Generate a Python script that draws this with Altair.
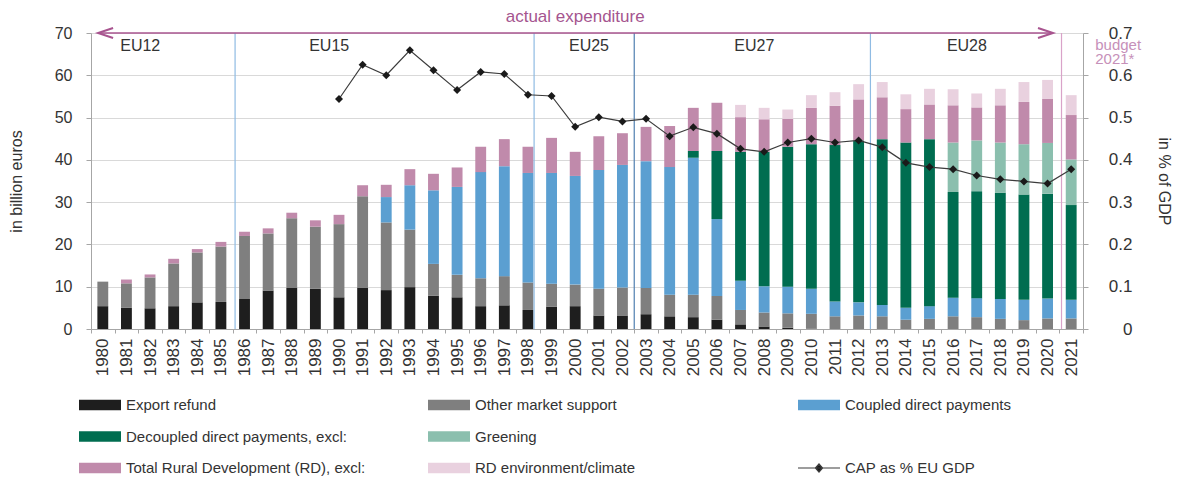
import altair as alt
import pandas as pd

FONT = "Liberation Sans"
TXT = "#333333"

years = ["1980", "1981", "1982", "1983", "1984", "1985", "1986", "1987", "1988", "1989",
         "1990", "1991", "1992", "1993", "1994", "1995", "1996", "1997", "1998", "1999",
         "2000", "2001", "2002", "2003", "2004", "2005", "2006", "2007", "2008", "2009",
         "2010", "2011", "2012", "2013", "2014", "2015", "2016", "2017", "2018", "2019",
         "2020", "2021"]

# billion euros, per segment
export_refund = [5.4, 5.0, 4.9, 5.4, 6.3, 6.4, 7.1, 9.1, 9.7, 9.5,
                 7.5, 9.8, 9.2, 9.9, 7.9, 7.5, 5.4, 5.6, 4.5, 5.3,
                 5.4, 3.2, 3.2, 3.5, 3.0, 2.8, 2.2, 1.1, 0.6, 0.3,
                 0.1, 0.0, 0.0, 0.0, 0.0, 0.0, 0.0, 0.0, 0.0, 0.0,
                 0.0, 0.0]
other_market = [5.8, 5.8, 7.3, 10.1, 11.8, 13.1, 14.9, 13.5, 16.5, 14.7,
                17.3, 21.6, 16.0, 13.6, 7.5, 5.3, 6.6, 6.9, 6.5, 5.4,
                5.1, 6.3, 6.6, 6.2, 5.1, 5.3, 5.6, 3.4, 3.3, 3.4,
                3.5, 3.0, 3.2, 3.0, 2.2, 2.4, 3.0, 2.8, 2.4, 2.1,
                2.5, 2.5]
coupled = [0.0, 0.0, 0.0, 0.0, 0.0, 0.0, 0.0, 0.0, 0.0, 0.0,
           0.0, 0.0, 6.0, 10.5, 17.4, 20.8, 25.1, 26.0, 25.9, 26.2,
           25.7, 28.1, 29.0, 30.0, 30.2, 32.4, 18.2, 6.9, 6.2, 6.3,
           5.9, 3.5, 3.1, 2.7, 2.8, 3.0, 4.4, 4.5, 4.7, 4.8,
           4.7, 4.4]
decoupled = [0.0, 0.0, 0.0, 0.0, 0.0, 0.0, 0.0, 0.0, 0.0, 0.0,
             0.0, 0.0, 0.0, 0.0, 0.0, 0.0, 0.0, 0.0, 0.0, 0.0,
             0.0, 0.0, 0.0, 0.0, 0.0, 1.6, 16.1, 30.5, 31.8, 33.1,
             34.2, 37.0, 38.3, 39.2, 39.1, 39.5, 25.0, 25.3, 25.1, 24.9,
             24.8, 22.4]
greening = [0.0, 0.0, 0.0, 0.0, 0.0, 0.0, 0.0, 0.0, 0.0, 0.0,
            0.0, 0.0, 0.0, 0.0, 0.0, 0.0, 0.0, 0.0, 0.0, 0.0,
            0.0, 0.0, 0.0, 0.0, 0.0, 0.0, 0.0, 0.0, 0.0, 0.0,
            0.0, 0.0, 0.0, 0.0, 0.0, 0.0, 11.7, 12.0, 11.9, 11.9,
            12.0, 10.8]
rural_dev = [0.0, 0.9, 0.7, 1.1, 0.8, 1.1, 1.0, 1.2, 1.3, 1.5,
             2.2, 2.6, 2.9, 3.8, 3.9, 4.6, 6.0, 6.4, 6.2, 8.3,
             5.7, 8.0, 7.5, 8.1, 9.7, 10.2, 11.4, 8.2, 7.7, 6.6,
             8.6, 9.3, 9.7, 9.9, 7.9, 8.2, 8.8, 7.8, 8.8, 10.0,
             10.4, 10.5]
rd_env = [0.0, 0.0, 0.0, 0.0, 0.0, 0.0, 0.0, 0.0, 0.0, 0.0,
          0.0, 0.0, 0.0, 0.0, 0.0, 0.0, 0.0, 0.0, 0.0, 0.0,
          0.0, 0.0, 0.0, 0.0, 0.0, 0.0, 0.0, 2.9, 2.7, 2.2,
          3.0, 3.2, 3.6, 3.6, 3.5, 3.7, 3.8, 3.3, 3.9, 4.7,
          4.5, 4.7]

# CAP as % of EU GDP
cap_years = ["1990", "1991", "1992", "1993", "1994", "1995", "1996", "1997", "1998", "1999",
             "2000", "2001", "2002", "2003", "2004", "2005", "2006", "2007", "2008", "2009",
             "2010", "2011", "2012", "2013", "2014", "2015", "2016", "2017", "2018", "2019",
             "2020", "2021"]
cap_pct = [0.544, 0.625, 0.600, 0.659, 0.612, 0.565, 0.608, 0.603, 0.554, 0.551,
           0.478, 0.501, 0.491, 0.497, 0.456, 0.477, 0.462, 0.426, 0.419, 0.441,
           0.450, 0.441, 0.446, 0.430, 0.393, 0.383, 0.378, 0.363, 0.354, 0.349,
           0.344, 0.378]

series = ["Export refund", "Other market support", "Coupled direct payments",
          "Decoupled direct payments, excl:", "Greening",
          "Total Rural Development (RD), excl:", "RD environment/climate"]
series_values = [export_refund, other_market, coupled, decoupled, greening, rural_dev, rd_env]
colors = ["#1e1e1e", "#7f7f7f", "#5b9fd1", "#006d50", "#8bbfae", "#c08aab", "#e9d1df"]
line_label = "CAP as % EU GDP"

region_labels = ["EU12", "EU15", "EU25", "EU27", "EU28"]
region_label_years = ["1981", "1989", "2000", "2007", "2016"]

# ---------------- data tables ----------------
rows = []
for i, (name, vals) in enumerate(zip(series, series_values)):
    for yr, v in zip(years, vals):
        if v > 0:
            rows.append({"year": yr, "series": name, "value": v, "k": i})
bars_df = pd.DataFrame(rows)
cap_df = pd.DataFrame({"year": cap_years, "pct": cap_pct})
reg_df = pd.DataFrame({"year": region_label_years, "label": region_labels})

x_scale = alt.Scale(domain=years, paddingInner=0, paddingOuter=0)
y_scale = alt.Scale(domain=[0, 70], nice=False, zero=True)

X = alt.X("year:N", scale=x_scale, title=None,
          axis=alt.Axis(labelAngle=-90, tickBand="extent", tickSize=4, labelPadding=5,
                        labelFontSize=17, labelColor=TXT, labelFont=FONT,
                        domainColor="#a6a6a6", tickColor="#a6a6a6", grid=False))

bars = alt.Chart(bars_df).mark_bar(width={"band": 0.46}).encode(
    x=X,
    y=alt.Y("value:Q", stack="zero", scale=y_scale, title="in billion euros",
            axis=alt.Axis(values=[0, 10, 20, 30, 40, 50, 60, 70], grid=True,
                          gridColor="#d9d9d9", domainColor="#a6a6a6", tickColor="#a6a6a6",
                          tickSize=5, labelPadding=14, labelFontSize=16, labelColor=TXT,
                          labelFont=FONT, titleFont=FONT, titleFontSize=16,
                          titleFontWeight="normal", titleColor=TXT, titlePadding=30)),
    color=alt.Color("series:N", scale=alt.Scale(domain=series, range=colors), legend=None),
    order=alt.Order("k:Q", sort="ascending"),
)

def sep(year, color, bp, width=1.2):
    return alt.Chart(pd.DataFrame({"year": [year]})).mark_rule(
        color=color, strokeWidth=width).encode(x=alt.X("year:N", bandPosition=bp))

seps = [
    sep("1986", "#8fbbe3", 0.1),
    sep("1998", "#8fbbe3", 0.76),
    sep("2003", "#4f7fb0", 0.0),
    sep("2013", "#8fbbe3", 0.0),
    sep("2021", "#d9a3c9", 0.09),
]

region_text = alt.Chart(reg_df).mark_text(
    fontSize=16, color=TXT, font=FONT, baseline="middle", align="center", dx=2).encode(
    x=alt.X("year:N", bandPosition=1), y=alt.datum(67), text="label:N")

arrow_df = pd.DataFrame({"start": ["1980"], "end": ["2020"]})
ARROW = "#a8548f"
arrow = alt.Chart(arrow_df).mark_rule(color=ARROW, strokeWidth=1.6).encode(
    x=alt.X("start:N", bandPosition=0.3), x2=alt.X2("end:N", bandPosition=0.73),
    y=alt.datum(70))
head_l = alt.Chart(arrow_df).mark_point(
    shape="M3,-1L0,0L3,1", size=100, filled=False, stroke=ARROW, strokeWidth=2,
    opacity=1).encode(x=alt.X("start:N", bandPosition=0.3), y=alt.datum(70))
head_r = alt.Chart(arrow_df).mark_point(
    shape="M-3,-1L0,0L-3,1", size=100, filled=False, stroke=ARROW, strokeWidth=2,
    opacity=1).encode(x=alt.X("end:N", bandPosition=0.73), y=alt.datum(70))

actual_txt = alt.Chart(pd.DataFrame({"year": ["2000"], "t": ["actual expenditure"]})).mark_text(
    fontSize=17, color="#a5558f", font=FONT, baseline="middle", align="center").encode(
    x=alt.X("year:N"), y=alt.datum(73.7), text="t:N")

budget_txt = alt.Chart(pd.DataFrame({"year": ["2021"]})).mark_text(
    text=["budget", "2021*"], fontSize=15, lineHeight=14, color="#c690b9", font=FONT,
    baseline="alphabetic", align="left", dx=24).encode(
    x=alt.X("year:N"), y=alt.datum(65.9))

left_group = alt.layer(bars, *seps, region_text, arrow, head_l, head_r, actual_txt, budget_txt)

y2_scale = alt.Scale(domain=[0, 0.7], nice=False, zero=True)
line = alt.Chart(cap_df).mark_line(color="#3c3c3c", strokeWidth=1.2).encode(
    x=alt.X("year:N"),
    y=alt.Y("pct:Q", scale=y2_scale, title="in % of GDP",
            axis=alt.Axis(orient="right", values=[0, 0.1, 0.2, 0.3, 0.4, 0.5, 0.6, 0.7],
                          format="~g", grid=False, domainColor="#a6a6a6",
                          tickColor="#a6a6a6", tickSize=5, labelAlign="right",
                          labelPadding=44, labelFontSize=17, labelColor=TXT,
                          labelFont=FONT, titleFont=FONT, titleFontSize=16,
                          titleFontWeight="normal", titleColor=TXT, titlePadding=23)),
)
points = alt.Chart(cap_df).mark_point(shape="diamond", filled=True, color="#1a1a1a",
                                      size=64, opacity=1).encode(
    x=alt.X("year:N"), y=alt.Y("pct:Q", scale=y2_scale))
right_group = alt.layer(line, points)

main = alt.layer(left_group, right_group).resolve_scale(y="independent").properties(
    width=992, height=296, view=alt.ViewConfig(strokeWidth=0))

# ---------------- legend ----------------
legend_order = [series[0], series[1], series[2],
                series[3], series[4], None,
                series[5], series[6], line_label]
leg_rows = []
for idx, lab in enumerate(legend_order):
    if lab is None:
        continue
    leg_rows.append({"label": lab, "col": idx % 3, "row": idx // 3,
                     "kind": "line" if lab == line_label else "bar"})
leg_df = pd.DataFrame(leg_rows)

leg_base = alt.Chart(leg_df).encode(
    x=alt.X("col:Q", scale=alt.Scale(domain=[0, 1, 2], range=[-12, 337, 707]), axis=None),
    y=alt.Y("row:Q", scale=alt.Scale(domain=[0, 2], range=[0, 63]), axis=None),
)
leg_sw = leg_base.transform_filter("datum.kind == 'bar'").mark_point(
    shape="M0,-0.25H2V0.25H0Z", filled=True, size=1764, opacity=1, strokeWidth=0).encode(
    color=alt.Color("label:N", scale=alt.Scale(domain=series, range=colors), legend=None))
leg_line = leg_base.transform_filter("datum.kind == 'line'").mark_point(
    shape="M0,0H2M0.83,0L1,-0.19L1.17,0L1,0.19Z", filled=True, fill="#1a1a1a",
    stroke="#3c3c3c", strokeWidth=1.2, size=1764, opacity=1)
leg_txt = leg_base.mark_text(align="left", baseline="middle", dx=47, fontSize=15,
                             color=TXT, font=FONT).encode(text="label:N")
legend = alt.layer(leg_sw, leg_line, leg_txt).properties(
    width=992, height=63, view=alt.ViewConfig(strokeWidth=0))

chart = alt.vconcat(main, legend, spacing=22).properties(
    padding={"left": 0, "top": 0, "right": 2, "bottom": 0}
).configure_view(stroke="transparent", strokeWidth=0).configure(font=FONT)

chart.save("out.html", embed_options={"renderer": "svg", "actions": False})
